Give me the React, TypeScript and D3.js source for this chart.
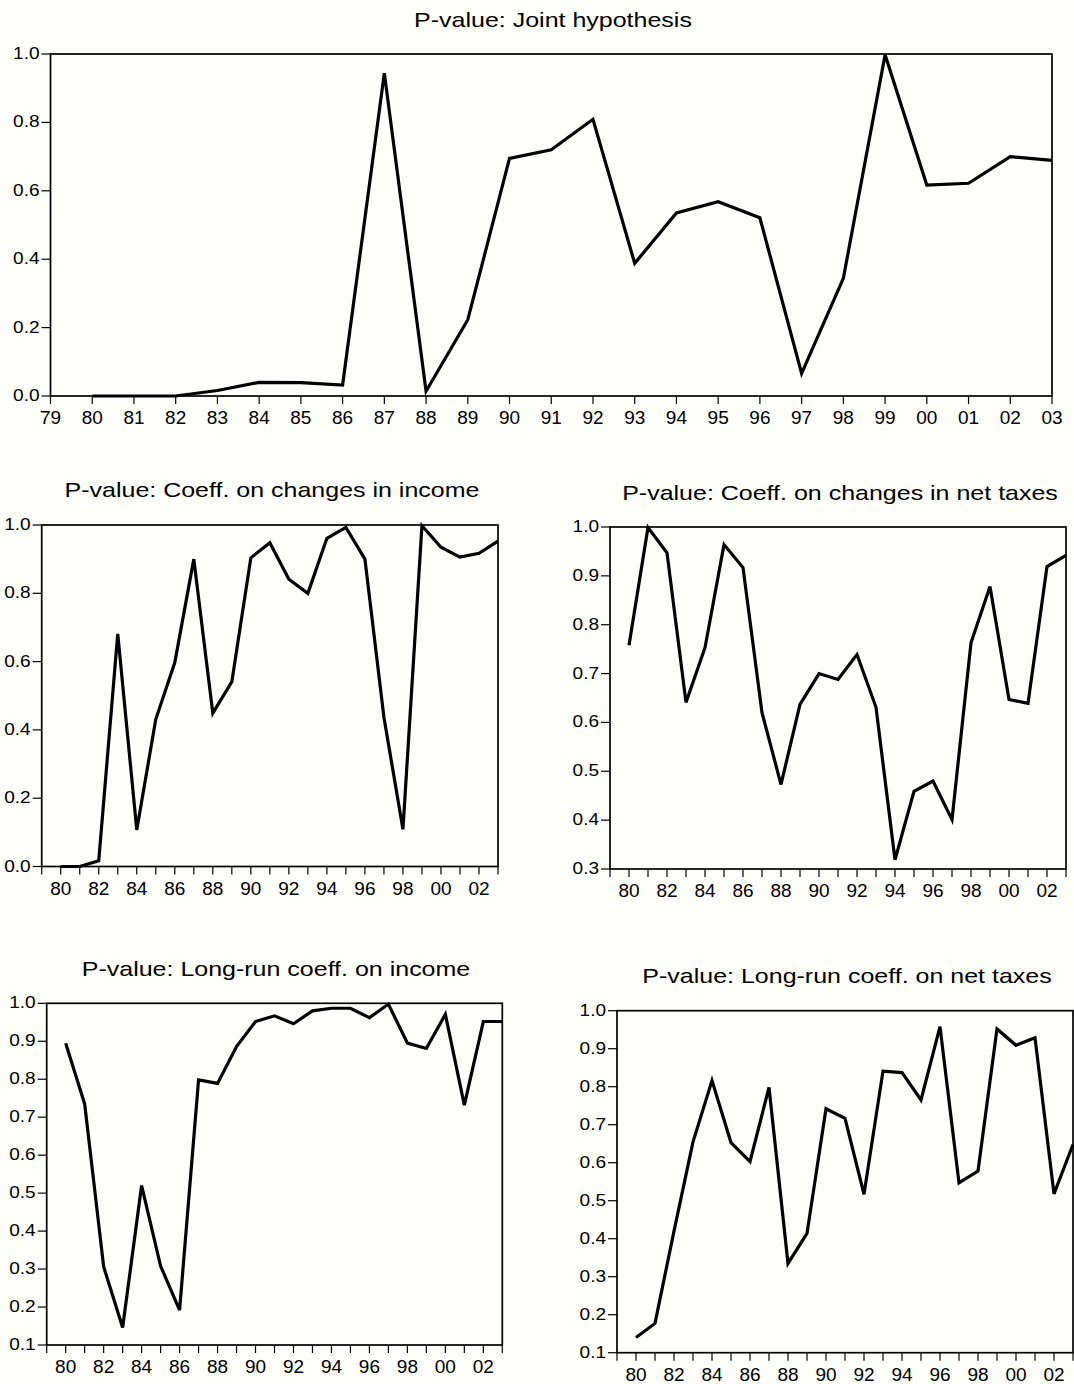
import * as d3 from "d3"

// years of the rolling test, 1980..2003
const years = [
  1980, 1981, 1982, 1983, 1984, 1985, 1986, 1987, 1988, 1989, 1990, 1991,
  1992, 1993, 1994, 1995, 1996, 1997, 1998, 1999, 2000, 2001, 2002, 2003,
]

const jointHypothesis = [
  0.0, 0.0, 0.0, 0.016, 0.04, 0.039, 0.032, 0.944, 0.014, 0.223, 0.695, 0.72,
  0.809, 0.388, 0.535, 0.568, 0.521, 0.066, 0.344, 0.998, 0.617, 0.622, 0.7, 0.689,
]

const changesIncome = [
  0.0, 0.0, 0.017, 0.681, 0.107, 0.431, 0.597, 0.9, 0.449, 0.541, 0.904, 0.948,
  0.841, 0.8, 0.961, 0.993, 0.9, 0.437, 0.109, 0.998, 0.935, 0.906, 0.917, 0.953,
]

const changesNetTaxes = [
  0.758, 0.999, 0.947, 0.641, 0.753, 0.964, 0.917, 0.62, 0.473, 0.637, 0.7, 0.688,
  0.739, 0.631, 0.319, 0.459, 0.48, 0.401, 0.763, 0.878, 0.647, 0.639, 0.919, 0.942,
]

const longRunIncome = [
  0.895, 0.735, 0.306, 0.146, 0.52, 0.308, 0.192, 0.798, 0.789, 0.886, 0.952, 0.967,
  0.946, 0.98, 0.987, 0.987, 0.962, 0.998, 0.895, 0.881, 0.971, 0.732, 0.952, 0.952,
]

const longRunNetTaxes = [
  0.14, 0.177, 0.42, 0.655, 0.816, 0.653, 0.603, 0.798, 0.335, 0.414, 0.742, 0.717,
  0.517, 0.841, 0.837, 0.765, 0.958, 0.547, 0.578, 0.952, 0.909, 0.929, 0.518, 0.648,
]

const ticksFifths = [0.0, 0.2, 0.4, 0.6, 0.8, 1.0]
const ticksFrom03 = [0.3, 0.4, 0.5, 0.6, 0.7, 0.8, 0.9, 1.0]
const ticksFrom01 = [0.1, 0.2, 0.3, 0.4, 0.5, 0.6, 0.7, 0.8, 0.9, 1.0]

const FONT = "'Liberation Sans', Arial, Helvetica, sans-serif"
const STRETCH = 1.19 // the exported graph is a bit wider than tall

interface Box {
  left: number
  right: number
  top: number
  bottom: number
}

interface PanelProps {
  title: string
  values: number[]
  yDomain: [number, number]
  yTicks: number[]
  labelStep: number
  box: Box
  titleX: number
  titleY: number
}

function Panel({ title, values, yDomain, yTicks, labelStep, box, titleX, titleY }: PanelProps) {
  const x = d3.scaleLinear().domain([1979, 2003]).range([box.left, box.right])
  const y = d3.scaleLinear().domain(yDomain).range([box.bottom, box.top])

  const line = d3
    .line<number>()
    .x((_, i) => x(years[i]))
    .y((d) => y(d))

  const xTicks = d3.range(1979, 2004)

  return (
    <g>
      <text
        transform={`translate(${titleX},${titleY}) scale(${STRETCH},1)`}
        textAnchor="middle"
        fontFamily={FONT}
        fontSize={21}
        fill="#000"
      >
        {title}
      </text>

      {/* y axis */}
      {yTicks.map((t) => (
        <g key={t}>
          <line x1={box.left - 9} x2={box.left} y1={y(t)} y2={y(t)} stroke="#000" strokeWidth={1.2} />
          <text
            transform={`translate(${box.left - 11},${y(t) + 5}) scale(${STRETCH},1)`}
            textAnchor="end"
            fontFamily={FONT}
            fontSize={16}
            fill="#000"
          >
            {t.toFixed(1)}
          </text>
        </g>
      ))}

      {/* x axis */}
      {xTicks.map((yr) => (
        <g key={yr}>
          <line x1={x(yr)} x2={x(yr)} y1={box.bottom} y2={box.bottom + 8} stroke="#000" strokeWidth={1.2} />
          {(yr - 1980) % labelStep === 0 ? (
            <text
              x={x(yr)}
              y={box.bottom + 28}
              textAnchor="middle"
              fontFamily={FONT}
              fontSize={19}
              fill="#000"
            >
              {String(yr % 100).padStart(2, "0")}
            </text>
          ) : null}
        </g>
      ))}

      <path d={line(values) || ""} fill="none" stroke="#000" strokeWidth={3.2} strokeLinejoin="miter" />

      <rect
        x={box.left}
        y={box.top}
        width={box.right - box.left}
        height={box.bottom - box.top}
        fill="none"
        stroke="#000"
        strokeWidth={1.7}
      />
    </g>
  )
}

export default function App() {
  return (
    <svg
      width={1074}
      height={1384}
      style={{ position: "absolute", left: 0, top: 0, background: "#fefefa" }}
    >
      <Panel
        title="P-value: Joint hypothesis"
        values={jointHypothesis}
        yDomain={[0, 1]}
        yTicks={ticksFifths}
        labelStep={1}
        box={{ left: 50.5, right: 1052, top: 54, bottom: 396 }}
        titleX={553}
        titleY={27}
      />
      <Panel
        title="P-value: Coeff. on changes in income"
        values={changesIncome}
        yDomain={[0, 1]}
        yTicks={ticksFifths}
        labelStep={2}
        box={{ left: 41.7, right: 498, top: 525, bottom: 866.5 }}
        titleX={272}
        titleY={497}
      />
      <Panel
        title="P-value: Coeff. on changes in net taxes"
        values={changesNetTaxes}
        yDomain={[0.3, 1]}
        yTicks={ticksFrom03}
        labelStep={2}
        box={{ left: 610, right: 1066, top: 527, bottom: 869 }}
        titleX={840}
        titleY={500}
      />
      <Panel
        title="P-value: Long-run coeff. on income"
        values={longRunIncome}
        yDomain={[0.1, 1]}
        yTicks={ticksFrom01}
        labelStep={2}
        box={{ left: 46.7, right: 502.3, top: 1003.3, bottom: 1345 }}
        titleX={276}
        titleY={976}
      />
      <Panel
        title="P-value: Long-run coeff. on net taxes"
        values={longRunNetTaxes}
        yDomain={[0.1, 1]}
        yTicks={ticksFrom01}
        labelStep={2}
        box={{ left: 617, right: 1073, top: 1010.7, bottom: 1352.7 }}
        titleX={847}
        titleY={983}
      />
    </svg>
  )
}
